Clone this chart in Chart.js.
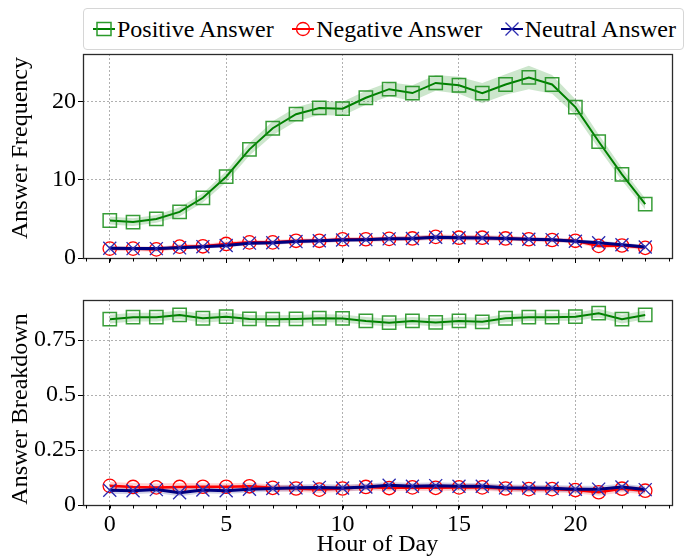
<!DOCTYPE html>
<html>
<head>
<meta charset="utf-8">
<script src="https://cdn.jsdelivr.net/npm/chart.js@4.4.0/dist/chart.umd.min.js"></script>
<style>
  body { margin: 0; background: #fff; }
  #wrap { position: relative; width: 689px; height: 559px; }
  #wrap canvas { position: absolute; left: 0; top: 0; }
  #legend {
    position: absolute; left: 83px; top: 8px; width: 601px; height: 42px;
    box-sizing: border-box; border: 1px solid #d6d6d6; border-radius: 4px;
    display: flex; align-items: center; justify-content: space-between;
    padding: 0 7px 0 9px; background: #fff;
    font: 24px 'Liberation Serif', 'Times New Roman', serif; color: #000;
  }
  #legend span { display: flex; align-items: center; white-space: nowrap; }
  #legend svg { margin-right: 2px; }
</style>
</head>
<body>
<div id="wrap">
  <canvas id="freqChart" width="689" height="559"></canvas>
  <canvas id="shareChart" width="689" height="559"></canvas>
  <div id="legend">
    <span><svg width="22" height="16"><line x1="0" y1="8" x2="22" y2="8" stroke="#008000" stroke-width="2"/><rect x="4" y="1.5" width="14" height="13" fill="none" stroke="#2a9a2a" stroke-width="1.5"/></svg>Positive Answer</span>
    <span><svg width="22" height="16"><line x1="0" y1="8" x2="22" y2="8" stroke="#ff0000" stroke-width="2"/><circle cx="11" cy="8" r="6.5" fill="none" stroke="#ff0000" stroke-width="1.3"/></svg>Negative Answer</span>
    <span><svg width="22" height="16"><line x1="0" y1="8" x2="22" y2="8" stroke="#000080" stroke-width="2"/><path d="M4.5 1.5 L17.5 14.5 M17.5 1.5 L4.5 14.5" stroke="#2a2ab0" stroke-width="1.3"/></svg>Neutral Answer</span>
  </div>
</div>
<script>
const hours = [0, 1, 2, 3, 4, 5, 6, 7, 8, 9, 10, 11, 12, 13, 14, 15, 16, 17, 18, 19, 20, 21, 22, 23]

// answer frequency (top panel)
const posFreq = [4.8, 4.6, 5.0, 5.9, 7.7, 10.4, 13.9, 16.6, 18.4, 19.2, 19.1, 20.5, 21.6, 21.1, 22.4, 22.1, 21.1, 22.2, 23.1, 22.2, 19.3, 14.9, 10.7, 6.9]
const posFreqErr = [0.5, 0.5, 0.5, 0.6, 0.6, 0.7, 0.8, 0.9, 0.9, 0.9, 0.9, 0.9, 0.9, 1.0, 1.0, 1.1, 1.3, 1.3, 1.5, 1.2, 1.0, 0.9, 0.8, 0.7]
const negFreq = [1.2, 1.2, 1.1, 1.45, 1.5, 1.8, 2.0, 2.0, 2.2, 2.2, 2.4, 2.4, 2.45, 2.5, 2.7, 2.6, 2.6, 2.5, 2.4, 2.3, 2.2, 1.55, 1.6, 1.3]
const negFreqErr = [0.3, 0.3, 0.3, 0.3, 0.3, 0.3, 0.3, 0.3, 0.3, 0.3, 0.3, 0.3, 0.3, 0.3, 0.35, 0.35, 0.35, 0.3, 0.3, 0.3, 0.3, 0.3, 0.3, 0.3]
const neuFreq = [1.25, 1.2, 1.2, 1.3, 1.45, 1.6, 1.9, 1.95, 2.1, 2.2, 2.3, 2.35, 2.45, 2.5, 2.65, 2.6, 2.55, 2.5, 2.4, 2.35, 2.15, 1.95, 1.7, 1.4]
const neuFreqErr = [0.25, 0.25, 0.25, 0.25, 0.25, 0.25, 0.25, 0.25, 0.25, 0.25, 0.25, 0.25, 0.3, 0.3, 0.3, 0.3, 0.3, 0.3, 0.25, 0.25, 0.25, 0.25, 0.25, 0.25]

// answer breakdown (bottom panel)
const posShare = [0.845, 0.854, 0.854, 0.864, 0.849, 0.856, 0.846, 0.845, 0.846, 0.849, 0.848, 0.837, 0.829, 0.837, 0.83, 0.837, 0.833, 0.849, 0.854, 0.854, 0.856, 0.872, 0.845, 0.864]
const posShareErr = [0.02, 0.02, 0.02, 0.02, 0.02, 0.02, 0.018, 0.018, 0.018, 0.018, 0.018, 0.018, 0.018, 0.018, 0.018, 0.018, 0.018, 0.018, 0.018, 0.018, 0.018, 0.02, 0.02, 0.02]
const negShare = [0.087, 0.082, 0.08, 0.082, 0.083, 0.083, 0.085, 0.078, 0.075, 0.07, 0.075, 0.082, 0.077, 0.08, 0.078, 0.08, 0.08, 0.075, 0.072, 0.072, 0.068, 0.058, 0.074, 0.065]
const negShareErr = [0.018, 0.018, 0.018, 0.018, 0.016, 0.016, 0.016, 0.015, 0.015, 0.015, 0.015, 0.015, 0.015, 0.015, 0.015, 0.015, 0.015, 0.015, 0.015, 0.015, 0.015, 0.016, 0.016, 0.016]
const neuShare = [0.067, 0.065, 0.07, 0.056, 0.068, 0.065, 0.072, 0.075, 0.078, 0.08, 0.077, 0.082, 0.09, 0.085, 0.088, 0.085, 0.085, 0.078, 0.077, 0.076, 0.072, 0.072, 0.082, 0.07]
const neuShareErr = [0.016, 0.016, 0.016, 0.016, 0.015, 0.015, 0.015, 0.015, 0.015, 0.015, 0.015, 0.015, 0.015, 0.015, 0.015, 0.015, 0.015, 0.015, 0.015, 0.015, 0.015, 0.015, 0.015, 0.015]

const xTicks = [0, 5, 10, 15, 20]
const freqTicks = [0, 10, 20]
const shareTicks = [0, 0.25, 0.5, 0.75]

Chart.defaults.font.family = "'Liberation Serif', 'Times New Roman', serif"
Chart.defaults.font.size = 24
Chart.defaults.color = '#000'

const pts = (vals) => hours.map((h, i) => ({ x: h, y: vals[i] }))
const shifted = (vals, errs, sign) => hours.map((h, i) => ({ x: h, y: vals[i] + sign * errs[i] }))

function series(label, vals, errs, color, bandColor, marker, order) {
	return [
		{
			label: label,
			data: pts(vals),
			borderColor: color.line,
			borderWidth: color.width,
			pointStyle: marker.style,
			pointRadius: marker.radius,
			pointBorderColor: marker.color,
			pointBorderWidth: marker.width,
			pointBackgroundColor: 'rgba(0,0,0,0)',
			tension: 0,
			order: order,
		},
		{ data: shifted(vals, errs, 1), borderWidth: 0, pointRadius: 0, fill: false, order: 10 + order },
		{ data: shifted(vals, errs, -1), borderWidth: 0, pointRadius: 0, fill: '-1', backgroundColor: bandColor, order: 10 + order },
	]
}

const greenStyle = { line: '#008000', width: 2 }
const redStyle = { line: '#ff0000', width: 2.5 }
const navyStyle = { line: '#000080', width: 3 }
const squareMark = { style: 'rect', radius: 9.4, color: 'rgba(20,140,20,0.85)', width: 1.5 }
const circleMark = { style: 'circle', radius: 6.7, color: '#ff0000', width: 1.3 }
const crossMark = { style: 'crossRot', radius: 9.2, color: '#2a2ab0', width: 1.3 }

// frame round the axes, minor ticks at every hour, and the y-axis label
const framePlugin = {
	id: 'frame',
	afterDraw(chart, args, opts) {
		const { ctx, chartArea: a, scales } = chart
		ctx.save()
		ctx.strokeStyle = '#2b2b2b'
		ctx.lineWidth = 1.3
		ctx.strokeRect(Math.round(a.left) + 0.5, Math.round(a.top) + 0.5, Math.round(a.width), Math.round(a.height))
		ctx.beginPath()
		ctx.lineWidth = 1
		ctx.strokeStyle = '#000'
		for (let h = -1; h <= 24; h++) {
			const px = Math.round(scales.x.getPixelForValue(h)) + 0.5
			ctx.moveTo(px, Math.round(a.bottom))
			ctx.lineTo(px, Math.round(a.bottom) + 3.5)
		}
		ctx.stroke()
		ctx.translate(21, opts.titleY)
		ctx.rotate(-Math.PI / 2)
		ctx.font = "24px 'Liberation Serif', 'Times New Roman', serif"
		ctx.fillStyle = '#000'
		ctx.textAlign = 'center'
		ctx.textBaseline = 'middle'
		ctx.fillText(opts.title, 0, 0)
		ctx.restore()
	},
}

function makeChart(id, datasets, yTicks, yMax, yTitle, titleY, pad, showX) {
	const grid = { color: '#b0b0b0', tickColor: '#000', tickLength: 5, tickBorderDash: [100, 0] }
	const border = { display: false, dash: [2, 2] }
	return new Chart(document.getElementById(id), {
		type: 'line',
		data: { datasets: datasets },
		plugins: [framePlugin],
		options: {
			responsive: false,
			animation: false,
			devicePixelRatio: 1,
			events: [],
			layout: { padding: pad },
			plugins: {
				legend: { display: false },
				tooltip: { enabled: false },
				frame: { title: yTitle, titleY: titleY },
			},
			scales: {
				x: {
					type: 'linear',
					min: -1.15,
					max: 24.15,
					afterBuildTicks: (s) => { s.ticks = xTicks.map((v) => ({ value: v })) },
					afterFit: (s) => { s.height = showX ? 54 : 10 },
					grid: grid,
					border: border,
					ticks: { display: showX, padding: 0, maxRotation: 0, callback: (v) => String(v) },
					title: { display: showX, text: 'Hour of Day', padding: { top: 0, bottom: 0 } },
				},
				y: {
					min: 0,
					max: yMax,
					afterBuildTicks: (s) => { s.ticks = yTicks.map((v) => ({ value: v })) },
					afterFit: (s) => { s.width = 83 },
					grid: grid,
					border: border,
					ticks: { padding: 2, callback: (v) => String(v) },
				},
			},
		},
	})
}

const freqChart = makeChart(
	'freqChart',
	[
		...series('Positive Answer', posFreq, posFreqErr, greenStyle, 'rgba(0,128,0,0.2)', squareMark, 3),
		...series('Negative Answer', negFreq, negFreqErr, redStyle, 'rgba(255,0,0,0.18)', circleMark, 2),
		...series('Neutral Answer', neuFreq, neuFreqErr, navyStyle, 'rgba(0,0,128,0.18)', crossMark, 1),
	],
	freqTicks, 26.1, 'Answer Frequency', 148,
	{ left: 0, right: 17, top: 54, bottom: 291 }, false
)

const shareChart = makeChart(
	'shareChart',
	[
		...series('Positive Answer', posShare, posShareErr, greenStyle, 'rgba(0,128,0,0.2)', squareMark, 3),
		...series('Negative Answer', negShare, negShareErr, redStyle, 'rgba(255,0,0,0.18)', circleMark, 2),
		...series('Neutral Answer', neuShare, neuShareErr, navyStyle, 'rgba(0,0,128,0.18)', crossMark, 1),
	],
	shareTicks, 0.932, 'Answer Breakdown', 409,
	{ left: 0, right: 17, top: 300, bottom: 0 }, true
)
</script>
</body>
</html>
